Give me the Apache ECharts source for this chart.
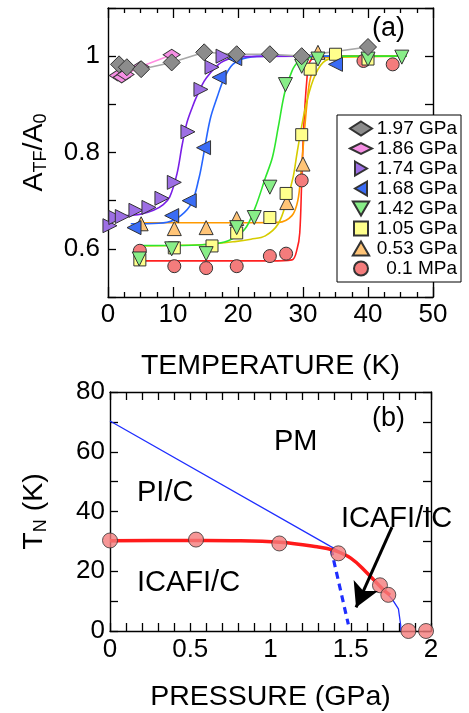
<!DOCTYPE html>
<html><head><meta charset="utf-8">
<script src="https://cdn.jsdelivr.net/npm/echarts@6/dist/echarts.min.js"></script>
<style>html,body{margin:0;padding:0;background:#fff}#c{width:469px;height:713px}</style>
</head><body><div id="c"></div><script>
// ---------- Panel (a) data: A_TF/A_0 vs temperature ----------
const pressures = ['1.97 GPa','1.86 GPa','1.74 GPa','1.68 GPa','1.42 GPa','1.05 GPa','0.53 GPa','0.1 MPa'];

const T_197 = [1.7, 2.9, 5.1, 9.8, 14.8, 19.8, 24.9, 29.8, 40.0];
const A_197 = [0.983, 0.977, 0.973, 0.987, 1.008, 1.004, 1.004, 1.000, 1.019];

const T_186 = [1.5, 2.1, 2.7, 5.0, 9.8];
const A_186 = [0.960, 0.956, 0.962, 0.978, 1.003];

const T_174 = [0.3, 1.2, 2.2, 4.3, 6.3, 8.3, 10.2, 12.3, 14.3, 16.0, 17.7];
const A_174 = [0.648, 0.665, 0.667, 0.680, 0.686, 0.705, 0.738, 0.843, 0.931, 0.977, 1.000];

const T_168 = [4.0, 9.8, 12.5, 14.7, 17.1, 19.5, 35.0];
const A_168 = [0.644, 0.669, 0.700, 0.810, 0.956, 0.995, 0.983];

const T_142 = [4.8, 9.8, 15.1, 19.8, 22.5, 24.9, 27.3, 29.8, 32.3, 40.0, 45.2];
const A_142 = [0.579, 0.600, 0.590, 0.644, 0.665, 0.728, 0.941, 0.979, 0.994, 0.994, 0.998];

const T_105 = [4.9, 10.2, 16.0, 19.8, 24.9, 27.4, 29.8, 31.1, 35.0, 40.0];
const A_105 = [0.577, 0.602, 0.606, 0.633, 0.665, 0.715, 0.837, 0.973, 1.004, 0.994];

const T_053 = [5.1, 10.2, 15.1, 19.8, 27.5, 30.0, 32.3];
const A_053 = [0.652, 0.642, 0.644, 0.663, 0.696, 0.776, 1.008];

const T_01 = [4.9, 10.2, 15.1, 19.8, 24.9, 27.4, 29.8, 39.3, 43.8];
const A_01 = [0.596, 0.564, 0.560, 0.564, 0.585, 0.590, 0.742, 0.990, 0.983];

// fitted curves
const fitT_174 = [0.3, 3, 5, 7, 8.5, 9.5, 10.6, 11.4, 12.1, 13, 13.7, 14.8, 15.8, 17, 17.8, 19, 21, 30];
const fitA_174 = [0.668, 0.669, 0.672, 0.680, 0.692, 0.708, 0.755, 0.815, 0.860, 0.895, 0.918, 0.948, 0.966, 0.983, 0.990, 0.996, 0.999, 1.000];

const fitT_168 = [3.5, 6, 9.1, 11.2, 12.9, 14.0, 14.5, 15.7, 16.8, 17.8, 19.2, 21.4, 25, 35];
const fitA_168 = [0.652, 0.652, 0.655, 0.669, 0.696, 0.747, 0.780, 0.868, 0.915, 0.952, 0.983, 0.997, 1.000, 1.000];

const fitT_142 = [5.1, 10, 15, 18.5, 21, 22.6, 24.2, 25.3, 26.2, 27.2, 28.3, 29.2, 31, 35, 46];
const fitA_142 = [0.607, 0.607, 0.609, 0.617, 0.640, 0.684, 0.747, 0.790, 0.853, 0.925, 0.969, 0.987, 0.997, 1.000, 1.000];

const fitT_105 = [5, 10, 15, 19.5, 22, 24.2, 26.2, 27.5, 28.5, 29.1, 30.3, 31.6, 33.1, 35, 45];
const fitA_105 = [0.606, 0.607, 0.609, 0.615, 0.620, 0.627, 0.652, 0.700, 0.750, 0.800, 0.889, 0.952, 0.987, 0.997, 1.000];

const fitT_053 = [4.5, 10, 20, 26.2, 28.3, 29.2, 29.7, 30.2, 30.6, 31.1, 32.1, 34, 45];
const fitA_053 = [0.654, 0.654, 0.654, 0.655, 0.669, 0.700, 0.760, 0.840, 0.900, 0.952, 0.987, 0.998, 1.000];

const fitT_01 = [5.8, 15, 25, 28.3, 29.1, 29.5, 29.8, 30.1, 30.6, 31.0, 32, 35, 44.5];
const fitA_01 = [0.575, 0.575, 0.575, 0.577, 0.600, 0.633, 0.740, 0.850, 0.952, 0.987, 0.998, 1.000, 1.000];

// ---------- Panel (b) data: T_N vs pressure ----------
const P_pts = [0, 0.536, 1.055, 1.423, 1.682, 1.734, 1.859, 1.969];
const TN_pts = [30.3, 30.6, 29.3, 26.0, 15.3, 12.1, 0, 0];

const P_redFit = [0, 0.4, 0.77, 1.06, 1.29, 1.39, 1.5, 1.6, 1.7, 1.745];
const TN_redFit = [30.2, 30.3, 30.2, 29.7, 28.2, 27.1, 24.4, 19.5, 14.0, 12.0];

const P_blue = [0, 1.371, 1.5, 1.6, 1.7, 1.76, 1.797, 1.811, 1.812];
const TN_blue = [70.3, 28.4, 24.6, 19.7, 14.2, 10.5, 7.4, 2.0, 0];

const P_blueDash = [1.377, 1.485];
const TN_blueDash = [27.6, 2.2];

const arrowFrom = [1.757, 34.8];
const arrowTo = [1.533, 7.9];

// ---------- build ----------
const FONT = 'Liberation Sans, Arial, Helvetica, sans-serif';
const zip = (xs, ys) => xs.map((x, i) => [x, ys[i]]);

const styles = {
  '1.97 GPa': {symbol: 'diamond', size: [17, 17], rot: 0, fill: '#8c8c8c', line: '#a8a8a8', icon: 'diamond'},
  '1.86 GPa': {symbol: 'diamond', size: [17, 11], rot: 0, fill: '#f68fe4', line: '#ff8ce0', icon: 'path://M0,5L10,0L20,5L10,10Z'},
  '1.74 GPa': {symbol: 'triangle', size: [14, 14], rot: -90, fill: '#9d6fe4', line: '#7a1fe6', icon: 'path://M0,0L12,7L0,14Z'},
  '1.68 GPa': {symbol: 'triangle', size: [14, 14], rot: 90, fill: '#3a6cf5', line: '#2666ff', icon: 'path://M12,0L0,7L12,14Z'},
  '1.42 GPa': {symbol: 'triangle', size: [14, 14], rot: 180, fill: '#88ee88', line: '#2ee62e', icon: 'path://M0,0L14,0L7,12Z'},
  '1.05 GPa': {symbol: 'rect', size: [12, 12], rot: 0, fill: '#ffff8c', line: '#d6cc00', icon: 'path://M0,0L12,0L12,12L0,12Z'},
  '0.53 GPa': {symbol: 'triangle', size: [14, 14], rot: 0, fill: '#ffc477', line: '#ff9a00', icon: 'path://M7,0L14,12L0,12Z'},
  '0.1 MPa': {symbol: 'circle', size: [13, 13], rot: 0, fill: '#f47c7c', line: '#ff2020', icon: 'circle'}
};

const scatterData = {
  '1.97 GPa': zip(T_197, A_197), '1.86 GPa': zip(T_186, A_186),
  '1.74 GPa': zip(T_174, A_174), '1.68 GPa': zip(T_168, A_168),
  '1.42 GPa': zip(T_142, A_142), '1.05 GPa': zip(T_105, A_105),
  '0.53 GPa': zip(T_053, A_053), '0.1 MPa': zip(T_01, A_01)
};
const fitData = {
  '1.97 GPa': zip(T_197, A_197), '1.86 GPa': zip(T_186, A_186),
  '1.74 GPa': zip(fitT_174, fitA_174), '1.68 GPa': zip(fitT_168, fitA_168),
  '1.42 GPa': zip(fitT_142, fitA_142), '1.05 GPa': zip(fitT_105, fitA_105),
  '0.53 GPa': zip(fitT_053, fitA_053), '0.1 MPa': zip(fitT_01, fitA_01)
};

const drawOrder = pressures.slice().reverse(); // low pressure first, 1.97 on top
const series = [];
drawOrder.forEach(p => {
  const isConn = (p === '1.97 GPa' || p === '1.86 GPa');
  series.push({
    type: 'line', name: 'fit ' + p, xAxisIndex: 0, yAxisIndex: 0,
    data: fitData[p], showSymbol: false, symbol: 'none',
    smooth: isConn ? false : 0.35, silent: true, z: 2,
    lineStyle: {color: styles[p].line, width: 1.6}
  });
});
drawOrder.forEach(p => {
  const s = styles[p];
  series.push({
    type: 'scatter', name: p, xAxisIndex: 0, yAxisIndex: 0,
    data: scatterData[p], symbol: s.symbol, symbolSize: s.size, symbolRotate: s.rot, z: 3,
    itemStyle: {color: s.fill, borderColor: '#333', borderWidth: 1, opacity: 1}
  });
});

// panel b
series.push({
  type: 'line', name: 'boundary', xAxisIndex: 2, yAxisIndex: 2, data: zip(P_blue, TN_blue),
  symbol: 'none', silent: true, lineStyle: {color: '#1f2eff', width: 1.3}, z: 2
});
series.push({
  type: 'line', name: 'boundary dashed', xAxisIndex: 2, yAxisIndex: 2, data: zip(P_blueDash, TN_blueDash),
  symbol: 'none', silent: true, lineStyle: {color: '#1f2eff', width: 3.2, type: [7, 5]}, z: 2,
  markLine: {
    silent: true, symbol: ['none', 'arrow'], symbolSize: [20, 24], animation: false,
    label: {show: false}, lineStyle: {color: '#000', width: 3, type: 'solid'},
    data: [[{coord: arrowFrom}, {coord: arrowTo}]]
  }
});
series.push({
  type: 'line', name: 'TN fit', xAxisIndex: 2, yAxisIndex: 2, data: zip(P_redFit, TN_redFit),
  symbol: 'none', smooth: 0.4, silent: true, lineStyle: {color: '#ff1a1a', width: 3.5}, z: 3
});
series.push({
  type: 'scatter', name: 'TN', xAxisIndex: 2, yAxisIndex: 2, data: zip(P_pts, TN_pts),
  symbol: 'circle', symbolSize: 15, z: 4,
  itemStyle: {color: '#f47c7c', borderColor: '#333', borderWidth: 1}
});

const axLine = {show: true, onZero: false, lineStyle: {color: '#000', width: 1.4}};
const lbl = {color: '#000', fontSize: 26, fontFamily: FONT};
const nameStyle = {color: '#000', fontSize: 28.5, fontFamily: FONT};
const richName = {
  m: {fontSize: 28.5, lineHeight: 32, fontFamily: FONT, color: '#000'},
  s: {fontSize: 18, lineHeight: 18, verticalAlign: 'bottom', fontFamily: FONT, color: '#000'}
};

const option = {
  animation: false,
  backgroundColor: '#fff',
  grid: [
    {left: 108, top: 8, width: 325, height: 289},
    {left: 110, top: 392, width: 321, height: 244}
  ],
  xAxis: [
    {gridIndex: 0, type: 'value', min: 0, max: 50, interval: 10, position: 'bottom',
     axisLine: axLine, splitLine: {show: false},
     axisTick: {inside: true, length: 10, lineStyle: {color: '#000', width: 1.3}},
     minorTick: {show: true, splitNumber: 4, length: 5, lineStyle: {color: '#000', width: 1.3}},
     axisLabel: Object.assign({margin: 5}, lbl),
     name: 'TEMPERATURE (K)', nameLocation: 'middle', nameGap: 55, nameTextStyle: nameStyle},
    {gridIndex: 0, type: 'value', min: 0, max: 50, interval: 10, position: 'top',
     axisLine: axLine, splitLine: {show: false}, axisLabel: {show: false},
     axisTick: {inside: true, length: 10, lineStyle: {color: '#000', width: 1.3}},
     minorTick: {show: true, splitNumber: 4, length: 5, lineStyle: {color: '#000', width: 1.3}}},
    {gridIndex: 1, type: 'value', min: 0, max: 2, interval: 0.5, position: 'bottom',
     axisLine: axLine, splitLine: {show: false},
     axisTick: {inside: true, length: 8, lineStyle: {color: '#000', width: 1.3}},
     minorTick: {show: true, splitNumber: 5, length: 8, lineStyle: {color: '#000', width: 1.3}},
     axisLabel: Object.assign({margin: 6}, lbl),
     name: 'PRESSURE (GPa)', nameLocation: 'middle', nameGap: 52, nameTextStyle: nameStyle},
    {gridIndex: 1, type: 'value', min: 0, max: 2, interval: 0.5, position: 'top',
     axisLine: axLine, splitLine: {show: false}, axisLabel: {show: false},
     axisTick: {inside: true, length: 8, lineStyle: {color: '#000', width: 1.3}},
     minorTick: {show: true, splitNumber: 5, length: 8, lineStyle: {color: '#000', width: 1.3}}}
  ],
  yAxis: [
    {gridIndex: 0, type: 'value', min: 0.5, max: 1.1, interval: 0.1, position: 'left',
     axisLine: axLine, splitLine: {show: false},
     axisTick: {inside: true, length: 8, lineStyle: {color: '#000', width: 1.3}},
     axisLabel: Object.assign({margin: 8, formatter: v => {
        const r = Math.round(v * 10) / 10;
        if (Math.abs(r - 1) < 1e-6) return '1';
        if (Math.abs(r - 0.6) < 1e-6 || Math.abs(r - 0.8) < 1e-6) return r.toFixed(1);
        return '';
     }}, lbl),
     name: '{m|A}{s|TF}{m|/A}{s|0}', nameLocation: 'middle', nameGap: 58, nameRotate: 90,
     nameTextStyle: {color: '#000', fontFamily: FONT, rich: richName}},
    {gridIndex: 0, type: 'value', min: 0.5, max: 1.1, interval: 0.1, position: 'right',
     axisLine: axLine, splitLine: {show: false}, axisLabel: {show: false},
     axisTick: {inside: true, length: 8, lineStyle: {color: '#000', width: 1.3}}},
    {gridIndex: 1, type: 'value', min: 0, max: 80, interval: 20, position: 'left',
     axisLine: axLine, splitLine: {show: false},
     axisTick: {inside: true, length: 8, lineStyle: {color: '#000', width: 1.3}},
     minorTick: {show: true, splitNumber: 2, length: 8, lineStyle: {color: '#000', width: 1.3}},
     axisLabel: Object.assign({margin: 5}, lbl),
     name: '{m|T}{s|N}{m| (K)}', nameLocation: 'middle', nameGap: 60, nameRotate: 90,
     nameTextStyle: {color: '#000', fontFamily: FONT, rich: richName}},
    {gridIndex: 1, type: 'value', min: 0, max: 80, interval: 20, position: 'right',
     axisLine: axLine, splitLine: {show: false}, axisLabel: {show: false},
     axisTick: {inside: true, length: 8, lineStyle: {color: '#000', width: 1.3}},
     minorTick: {show: true, splitNumber: 2, length: 8, lineStyle: {color: '#000', width: 1.3}}}
  ],
  legend: {
    data: pressures.map(p => ({name: p, icon: styles[p].icon})),
    orient: 'vertical', left: 337, top: 115,
    itemWidth: 22, itemHeight: 14, itemGap: 1, selectedMode: false,
    borderColor: '#000', borderWidth: 1, backgroundColor: '#fff',
    padding: [4, 4, 4, 12],
    formatter: n => '{r|' + n + '}',
    textStyle: {fontSize: 19, fontFamily: FONT, color: '#000',
      rich: {r: {width: 80, align: 'right', fontSize: 19, fontFamily: FONT, color: '#000'}}}
  },
  graphic: [
    {type: 'text', left: 372, top: 15, style: {text: '(a)', font: '27px ' + FONT, fill: '#000'}},
    {type: 'text', left: 372, top: 405, style: {text: '(b)', font: '27px ' + FONT, fill: '#000'}},
    {type: 'text', left: 274, top: 427, style: {text: 'PM', font: '29px ' + FONT, fill: '#000'}},
    {type: 'text', left: 137, top: 478, style: {text: 'PI/C', font: '29px ' + FONT, fill: '#000'}},
    {type: 'text', left: 137, top: 568, style: {text: 'ICAFI/C', font: '29px ' + FONT, fill: '#000'}},
    {type: 'text', left: 341, top: 504, style: {text: 'ICAFI/IC', font: '29px ' + FONT, fill: '#000'}}
  ],
  series: series
};

const chart = echarts.init(document.getElementById('c'), null, {renderer: 'canvas'});
chart.setOption(option);
</script></body></html>
